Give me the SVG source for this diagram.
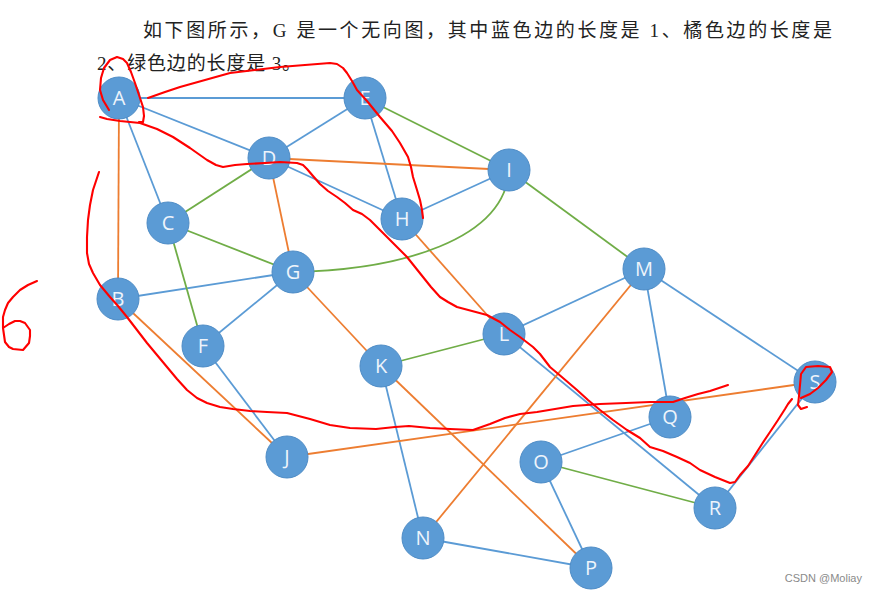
<svg xmlns="http://www.w3.org/2000/svg" width="879" height="594" viewBox="0 0 879 594">
<style>
.e{fill:none;stroke-width:1.8}
.b{stroke:#5B9BD5}
.o{stroke:#ED7D31}
.g{stroke:#70AD47}
.n{fill:#5B9BD5;stroke:#4E8CC6;stroke-width:1}
.t{fill:#EEF4FB;font-family:"Open Sans","Liberation Sans",sans-serif;font-size:20px;text-anchor:middle}
.r{fill:none;stroke:#FF0000;stroke-width:2.1;stroke-linecap:round;stroke-linejoin:round}
.h{font-family:"Liberation Serif","Noto Sans CJK SC",serif;font-size:19px;fill:#222}
</style>
<rect width="879" height="594" fill="#fff"/>
<text class="h" x="143" y="37" textLength="689" lengthAdjust="spacing">如下图所示，G 是一个无向图，其中蓝色边的长度是 1、橘色边的长度是</text>
<text class="h" x="97" y="70" textLength="204" lengthAdjust="spacing">2、绿色边的长度是 3。</text>
<g id="edges">
<line class="e b" x1="119" y1="98" x2="365" y2="98"/>
<line class="e b" x1="119" y1="98" x2="269" y2="158"/>
<line class="e b" x1="119" y1="98" x2="168" y2="223"/>
<line class="e b" x1="365" y1="98" x2="269" y2="158"/>
<line class="e b" x1="365" y1="98" x2="402" y2="219"/>
<line class="e b" x1="269" y1="158" x2="402" y2="219"/>
<line class="e b" x1="402" y1="219" x2="509" y2="170"/>
<line class="e b" x1="118" y1="299" x2="293" y2="272"/>
<line class="e b" x1="293" y1="272" x2="203" y2="346"/>
<line class="e b" x1="203" y1="346" x2="287" y2="457"/>
<line class="e b" x1="644" y1="269" x2="504" y2="334"/>
<line class="e b" x1="644" y1="269" x2="670" y2="417"/>
<line class="e b" x1="644" y1="269" x2="815" y2="382"/>
<line class="e b" x1="504" y1="334" x2="715" y2="508"/>
<line class="e b" x1="541" y1="462" x2="670" y2="417"/>
<line class="e b" x1="541" y1="462" x2="591" y2="568"/>
<line class="e b" x1="423" y1="538" x2="591" y2="568"/>
<line class="e b" x1="381" y1="366" x2="423" y2="538"/>
<line class="e b" x1="815" y1="382" x2="715" y2="508"/>
<line class="e o" x1="119" y1="98" x2="118" y2="299"/>
<line class="e o" x1="269" y1="158" x2="509" y2="170"/>
<line class="e o" x1="269" y1="158" x2="293" y2="272"/>
<line class="e o" x1="402" y1="219" x2="504" y2="334"/>
<line class="e o" x1="118" y1="299" x2="287" y2="457"/>
<line class="e o" x1="293" y1="272" x2="381" y2="366"/>
<line class="e o" x1="381" y1="366" x2="591" y2="568"/>
<line class="e o" x1="423" y1="538" x2="644" y2="269"/>
<line class="e o" x1="287" y1="457" x2="815" y2="382"/>
<line class="e g" x1="365" y1="98" x2="509" y2="170"/>
<line class="e g" x1="509" y1="170" x2="644" y2="269"/>
<line class="e g" x1="269" y1="158" x2="168" y2="223"/>
<line class="e g" x1="168" y1="223" x2="293" y2="272"/>
<line class="e g" x1="168" y1="223" x2="203" y2="346"/>
<line class="e g" x1="381" y1="366" x2="504" y2="334"/>
<line class="e g" x1="541" y1="462" x2="715" y2="508"/>
<path class="e g" d="M293,272 C400,270 505,240 509,170"/>
</g>
<g id="A"><circle class="n" cx="119" cy="98" r="21"/><text class="t" x="119" y="105">A</text></g>
<g id="E"><circle class="n" cx="365" cy="98" r="21"/><text class="t" x="365" y="105">E</text></g>
<g id="D"><circle class="n" cx="269" cy="158" r="21"/><text class="t" x="269" y="165">D</text></g>
<g id="C"><circle class="n" cx="168" cy="223" r="21"/><text class="t" x="168" y="230">C</text></g>
<g id="H"><circle class="n" cx="402" cy="219" r="21"/><text class="t" x="402" y="226">H</text></g>
<g id="I"><circle class="n" cx="509" cy="170" r="21"/><text class="t" x="509" y="177">I</text></g>
<g id="M"><circle class="n" cx="644" cy="269" r="21"/><text class="t" x="644" y="276">M</text></g>
<g id="B"><circle class="n" cx="118" cy="299" r="21"/><text class="t" x="118" y="306">B</text></g>
<g id="G"><circle class="n" cx="293" cy="272" r="21"/><text class="t" x="293" y="279">G</text></g>
<g id="F"><circle class="n" cx="203" cy="346" r="21"/><text class="t" x="203" y="353">F</text></g>
<g id="J"><circle class="n" cx="287" cy="457" r="21"/><text class="t" x="287" y="464">J</text></g>
<g id="K"><circle class="n" cx="381" cy="366" r="21"/><text class="t" x="381" y="373">K</text></g>
<g id="L"><circle class="n" cx="504" cy="334" r="21"/><text class="t" x="504" y="341">L</text></g>
<g id="S"><circle class="n" cx="815" cy="382" r="21"/><text class="t" x="815" y="389">S</text></g>
<g id="Q"><circle class="n" cx="670" cy="417" r="21"/><text class="t" x="670" y="424">Q</text></g>
<g id="R"><circle class="n" cx="715" cy="508" r="21"/><text class="t" x="715" y="515">R</text></g>
<g id="O"><circle class="n" cx="541" cy="462" r="21"/><text class="t" x="541" y="469">O</text></g>
<g id="N"><circle class="n" cx="423" cy="538" r="21"/><text class="t" x="423" y="545">N</text></g>
<g id="P"><circle class="n" cx="591" cy="568" r="21"/><text class="t" x="591" y="575">P</text></g>
<g id="annotations">
<path class="r" d="M109,110 L103,100 100,90 101,78 104,68 110,60 117,57 123,59 127,63 131,72 135,83 139,95 143,107 144,116 143,122 139,122"/>
<path class="r" d="M148,98 L165,92 180,87 205,80 230,73 255,70 280,67 305,65 330,63 337,64 343,68 347,73 352,81 357,90 367,101 380,117 392,131 400,143 408,157 411,167 413,177 417,190 420,200 422,210 423,218"/>
<path class="r" d="M100,117 L107,119 120,121 140,123 157,129 173,137 190,148 207,160 216,165 223,167 235,165 247,164 265,163 280,162 297,163 303,165 307,169 313,176 320,184 328,191 337,197 345,203 353,210 362,214 370,220 378,228 387,237 397,247 407,257 415,267 423,277 431,287 440,297 448,302 457,307 472,311 487,315 500,322 510,330 520,337 533,347 540,354 550,367 563,378 577,390 588,400 600,410 613,420 627,430 640,438 650,447 663,451 677,457 690,463 700,470 715,477 730,483 735,482 740,475 748,466 755,455 762,444 770,432 778,420 785,409 788,404 792,399"/>
<path class="r" d="M99,172 L93,190 90,205 88,220 87,237 87,253 89,264 93,273 100,285 110,297 118,306 127,317 137,330 147,343 157,355 167,367 177,379 187,390 197,398 207,403 220,407 233,409 250,411 267,412 287,413 310,419 330,425 350,428 376,429 395,427 409,426 430,428 450,429 473,430 490,424 505,418 520,414 537,412 555,409 573,406 600,404 626,403 650,402 673,402 685,398 698,394 710,391 716,389 728,385"/>
<path class="r" d="M807,407 L801,409 798,405 799,396 800,385 801,374 806,367 818,366 830,367 832,372 826,380 818,388 810,394 801,398"/>
<path class="r" d="M37,281 L28,285 20,290 13,297 8,303 5,310 3,317 3,328 5,342 9,347 13,349 23,350 29,343 30,336 30,330 25,323 20,321 15,321 9,324 3,328"/>
</g>
<text x="862" y="582" text-anchor="end" font-family="Liberation Sans, sans-serif" font-size="11" fill="#8a8a8a">CSDN @Moliay</text>
</svg>
